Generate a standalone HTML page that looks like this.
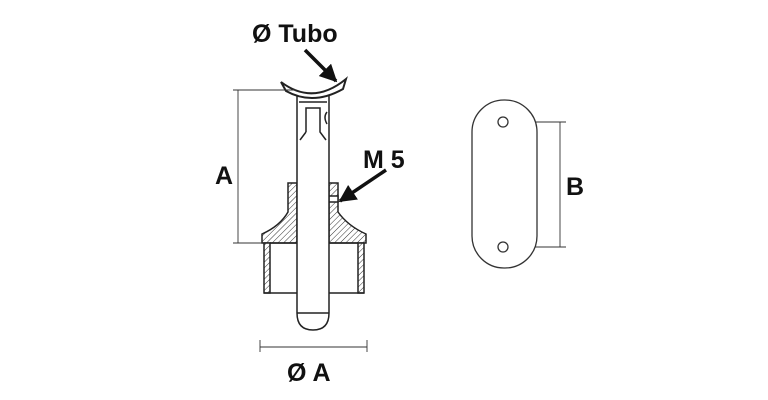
<!DOCTYPE html>
<html><head><meta charset="utf-8"><style>
html,body{margin:0;padding:0;background:#fff;width:768px;height:400px;overflow:hidden}
text{font-family:"Liberation Sans",sans-serif;font-weight:bold;fill:#111}
</style></head><body>
<svg width="768" height="400" viewBox="0 0 768 400" xmlns="http://www.w3.org/2000/svg">
<defs>
<pattern id="h" width="4" height="4" patternUnits="userSpaceOnUse" patternTransform="rotate(45)">
<rect width="4" height="4" fill="#fff"/><line x1="0" y1="0" x2="0" y2="4" stroke="#333" stroke-width="1"/>
</pattern>
<marker id="ar" markerWidth="5" markerHeight="5" refX="4.5" refY="2.5" orient="auto" markerUnits="strokeWidth">
<path d="M0,0 L5,2.5 L0,5 z" fill="#111"/></marker>
</defs>
<g fill="none" stroke="#222" stroke-width="1.5">
<path d="M288,183 L297,183 L297,243 L262,243 L262,234 Q280,226 288,212 Z" fill="url(#h)"/>
<path d="M338,183 L329,183 L329,243 L366,243 L366,234 Q348,226 338,212 Z" fill="url(#h)"/>
<rect x="329" y="196" width="9" height="6" fill="#fff"/>
<path d="M264,243 L270,243 L270,293 L264,293 Z" fill="url(#h)"/>
<path d="M358,243 L364,243 L364,293 L358,293 Z" fill="url(#h)"/>
<line x1="264" y1="293" x2="364" y2="293"/>
<line x1="270" y1="243" x2="358" y2="243"/>
<path d="M297,96 L297,313 Q297,330 313,330 Q329,330 329,313 L329,96" fill="#fff"/>
<line x1="297" y1="313" x2="329" y2="313"/>
<path d="M306,132 L306,108 L320,108 L320,132 L326,140"/>
<path d="M306,132 L300,140"/>
<line x1="299" y1="102" x2="327" y2="102"/>
<path d="M327,112 Q323,117 327,124"/>
<path d="M281,82 Q313,106 346,79 L343,89 Q313,106 286,91 Z" fill="#fff" stroke-width="2"/>
</g>
<g stroke="#333" stroke-width="0.9" fill="none">
<line x1="233" y1="90" x2="296" y2="90"/>
<line x1="233" y1="243" x2="262" y2="243"/>
<line x1="238" y1="90" x2="238" y2="243"/>
<line x1="260" y1="340" x2="260" y2="352"/>
<line x1="367" y1="340" x2="367" y2="352"/>
<line x1="260" y1="347" x2="367" y2="347"/>
<line x1="519" y1="122" x2="566" y2="122"/>
<line x1="519" y1="247" x2="566" y2="247"/>
<line x1="560" y1="122" x2="560" y2="247"/>
</g>
<rect x="472" y="100" width="65" height="168" rx="32" ry="32" fill="#fff" stroke="#333" stroke-width="1.3"/>
<circle cx="503" cy="122" r="5" fill="#fff" stroke="#333" stroke-width="1.3"/>
<circle cx="503" cy="247" r="5" fill="#fff" stroke="#333" stroke-width="1.3"/>
<line x1="305" y1="50" x2="336" y2="81" stroke="#111" stroke-width="3.5" marker-end="url(#ar)"/>
<line x1="386" y1="170" x2="340" y2="201" stroke="#111" stroke-width="3.5" marker-end="url(#ar)"/>
<text x="252" y="42" font-size="25">Ø Tubo</text>
<text x="215" y="184" font-size="25">A</text>
<text x="363" y="168" font-size="25">M 5</text>
<text x="566" y="195" font-size="25">B</text>
<text x="287" y="381" font-size="25">Ø A</text>
</svg>
</body></html>
